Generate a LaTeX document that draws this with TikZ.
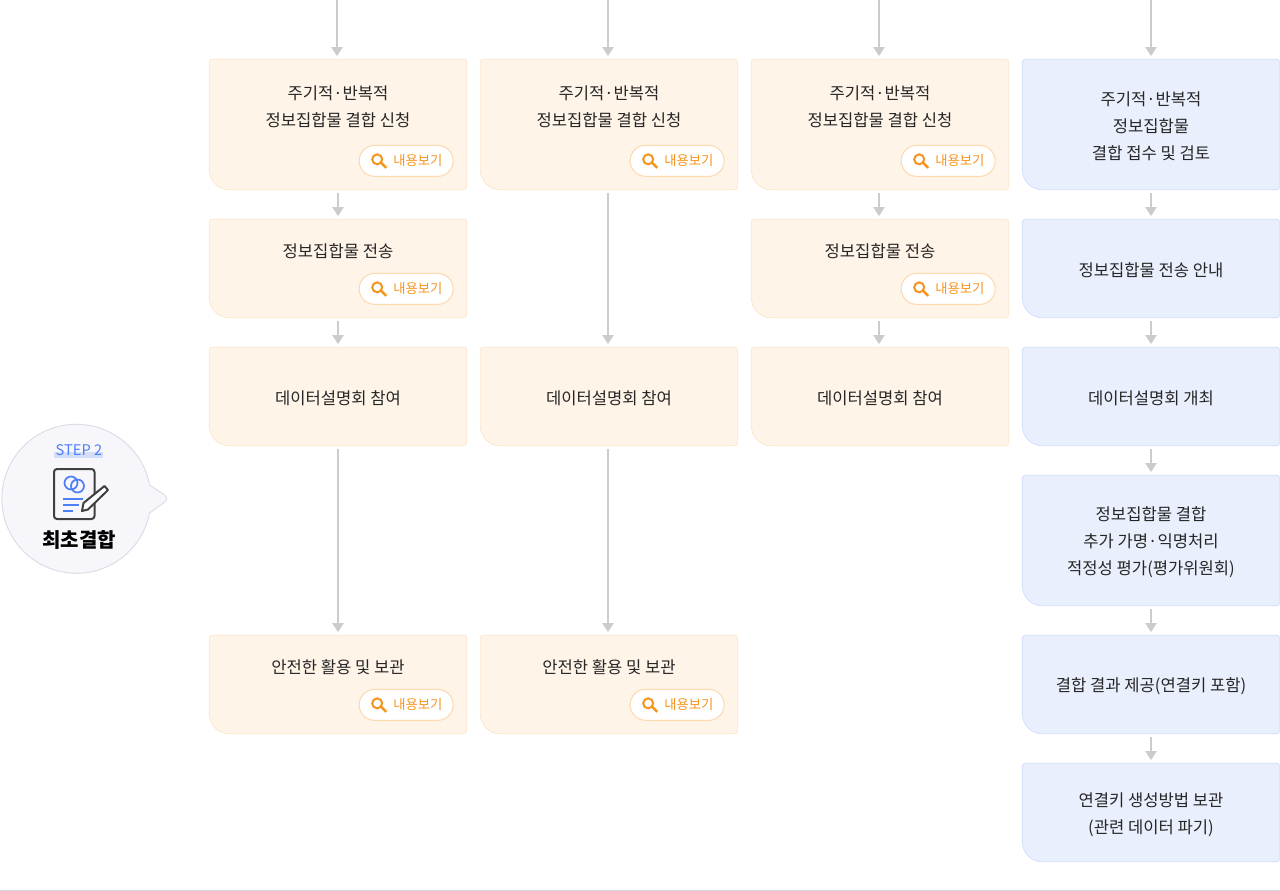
\documentclass[tikz,border=0pt]{standalone}
\usepackage{fontspec}
\setmainfont{Noto Sans CJK KR}
\usetikzlibrary{positioning, arrows.meta, calc}
\definecolor{orangefill}{HTML}{FFF4E8}
\definecolor{orangeline}{HTML}{FDE6CE}
\definecolor{bluefill}{HTML}{E9EFFD}
\definecolor{blueline}{HTML}{D5E0F9}
\definecolor{btnline}{HTML}{FDD9AE}
\definecolor{btntext}{HTML}{F7941D}
\definecolor{arrowgray}{HTML}{CCCCCC}
\definecolor{stepblue}{HTML}{4F7FF7}
\definecolor{stepbar}{HTML}{D3DFFA}
\definecolor{badgefill}{HTML}{F7F7FB}
\definecolor{badgeline}{HTML}{DCDDE8}
\tikzset{
  >={Triangle[length=6.75pt, width=8.25pt]},
  flow/.style={->, arrowgray, line width=1.5pt, shorten >=2.25pt, shorten <=2.25pt},
  stagebox/.style={minimum width=193pt, inner sep=0pt, outer sep=0pt},
  shape fill/.style 2 args={append after command={\pgfextra{
    \draw[fill=#1, draw=#2, line width=.6pt] (\tikzlastnode.west) [rounded corners=15pt] -- (\tikzlastnode.south west)
      [rounded corners=2.25pt] -- (\tikzlastnode.south east) -- (\tikzlastnode.north east) -- (\tikzlastnode.north west) -- cycle;
  }}},
  reqbox/.style={stagebox, shape fill={orangefill}{orangeline}},
  hostbox/.style={stagebox, shape fill={bluefill}{blueline}},
  title/.style={align=center, yshift=-1pt, text=black!85, font=\fontsize{12.45}{20.25}\selectfont},
  viewbtn/.style={draw=btnline, fill=white, line width=.75pt, rounded corners=11.6pt, minimum width=70.5pt, minimum height=23.25pt, inner sep=0pt, anchor=south east,
    text=btntext, font=\fontsize{10}{12}\selectfont},
}
\newcommand{\viewbutton}[2]{
  \node[viewbtn] (#1) at ($(#2.south east)+(-13,-13)$) {\hspace*{17.5pt}내용보기};
  \draw[btntext, line width=1.5pt] ($(#1.west)+(18.5,-1.5)$) circle (5);
  \draw[btntext, line width=1.9pt] ($(#1.west)+(22.5,2)$) -- ($(#1.west)+(27.5,7)$);
}
\begin{document}
\begin{tikzpicture}[x=.75pt, y=-.75pt]
  \useasboundingbox (0,0) rectangle (1280,891);
  \draw[black!15, line width=.75pt] (0,890.5) -- (1280,890.5);

  % first column
  \coordinate (topA) at (337,0);
  \node[reqbox, minimum height=98pt] (boxA1) at (338,124.5) {};
  \node[reqbox, minimum height=74pt] (boxA2) at (338,268.5) {};
  \node[reqbox, minimum height=74pt] (boxA3) at (338,396.5) {};
  \node[reqbox, minimum height=74pt] (boxA4) at (338,684.5) {};

  % second column
  \coordinate (topB) at (608,0);
  \node[reqbox, minimum height=98pt] (boxB1) at (609,124.5) {};
  \node[reqbox, minimum height=74pt] (boxB3) at (609,396.5) {};
  \node[reqbox, minimum height=74pt] (boxB4) at (609,684.5) {};

  % third column
  \coordinate (topC) at (879,0);
  \node[reqbox, minimum height=98pt] (boxC1) at (880,124.5) {};
  \node[reqbox, minimum height=74pt] (boxC2) at (880,268.5) {};
  \node[reqbox, minimum height=74pt] (boxC3) at (880,396.5) {};

  % last column
  \coordinate (topD) at (1151,0);
  \node[hostbox, minimum height=98pt] (boxD1) at (1151,124.5) {};
  \node[hostbox, minimum height=74pt] (boxD2) at (1151,268.5) {};
  \node[hostbox, minimum height=74pt] (boxD3) at (1151,396.5) {};
  \node[hostbox, minimum height=98pt] (boxD4) at (1151,540.5) {};
  \node[hostbox, minimum height=74pt] (boxD5) at (1151,684.5) {};
  \node[hostbox, minimum height=74pt] (boxD6) at (1151,812.5) {};

  \foreach \col in {A,B,C,D}
    \draw[flow, shorten <=0pt] (top\col) -- (top\col |- box\col1.north);
  \foreach \from/\to in {A1/A2, A2/A3, A3/A4, D1/D2, D2/D3, D3/D4, D4/D5, D5/D6}
    \draw[flow] (box\from.south) -- (box\to.north);
  \foreach \from/\to in {B1/B3, B3/B4, C1/C2, C2/C3}
    \draw[flow, transform canvas={xshift=-.75pt}] (box\from.south) -- (box\to.north);

  \foreach \col in {A,B,C} {
    \node[title] (title\col1) at ($(box\col1.north)+(0,46.5)$) {주기적·반복적\\정보집합물 결합 신청};
    \node[title] (title\col3) at (box\col3) {데이터설명회 참여};
  }
  \foreach \col in {A,C}
    \node[title] (title\col2) at ($(box\col2.north)+(0,31)$) {정보집합물 전송};
  \foreach \col in {A,B}
    \node[title] (title\col4) at ($(box\col4.north)+(0,31)$) {안전한 활용 및 보관};
  \node[title] (titleD1) at (boxD1) {주기적·반복적\\정보집합물\\결합 접수 및 검토};
  \node[title] (titleD2) at (boxD2) {정보집합물 전송 안내};
  \node[title] (titleD3) at (boxD3) {데이터설명회 개최};
  \node[title] (titleD4) at (boxD4) {정보집합물 결합\\추가 가명·익명처리\\적정성 평가(평가위원회)};
  \node[title] (titleD5) at (boxD5) {결합 결과 제공(연결키 포함)};
  \node[title] (titleD6) at ($(boxD6)+(0,1)$) {연결키 생성방법 보관\\(관련 데이터 파기)};

  \foreach \b in {A1,A2,A4,B1,B4,C1,C2} {
    \viewbutton{btn\b}{box\b}
  }

  % step badge
  \coordinate (badge) at (77,499);
  \draw[fill=badgefill, draw=badgeline, line width=.75pt] ($(badge)+(72.5,-14)$) -- (164,494.5)
    .. controls (167.5,497) and (167.5,500) .. (164,502.5) -- ($(badge)+(72.5,14)$)
    arc[start angle=11, end angle=349, radius=74.5];
  \fill[stepbar] (54,452) rectangle (103,458);
  \node[text=stepblue, font=\fontsize{11}{12}\selectfont] (steplabel) at (79,450) {STEP 2};
  \node[font=\bfseries\fontsize{15}{18}\selectfont, text=black] (steptitle) at (79,539.5) {최초결합};
  % document icon
  \draw[black!75, line width=1.5pt, rounded corners=2.25pt] (54,469) rectangle (94.5,519);
  \draw[stepblue, line width=1.3pt] (71,483) circle (6.5) (77.5,486) circle (6.5);
  \draw[stepblue, line width=1.5pt] (63,498.5) -- (83,498.5) (63,505) -- (79,505) (63,511) -- (73,511);
  \draw[black!75, fill=white, line width=1.5pt, line join=round] (82,511) -- (83.5,503) -- (104.5,486) -- (108,490) -- (88,509.5) -- cycle;
\end{tikzpicture}
\end{document}
